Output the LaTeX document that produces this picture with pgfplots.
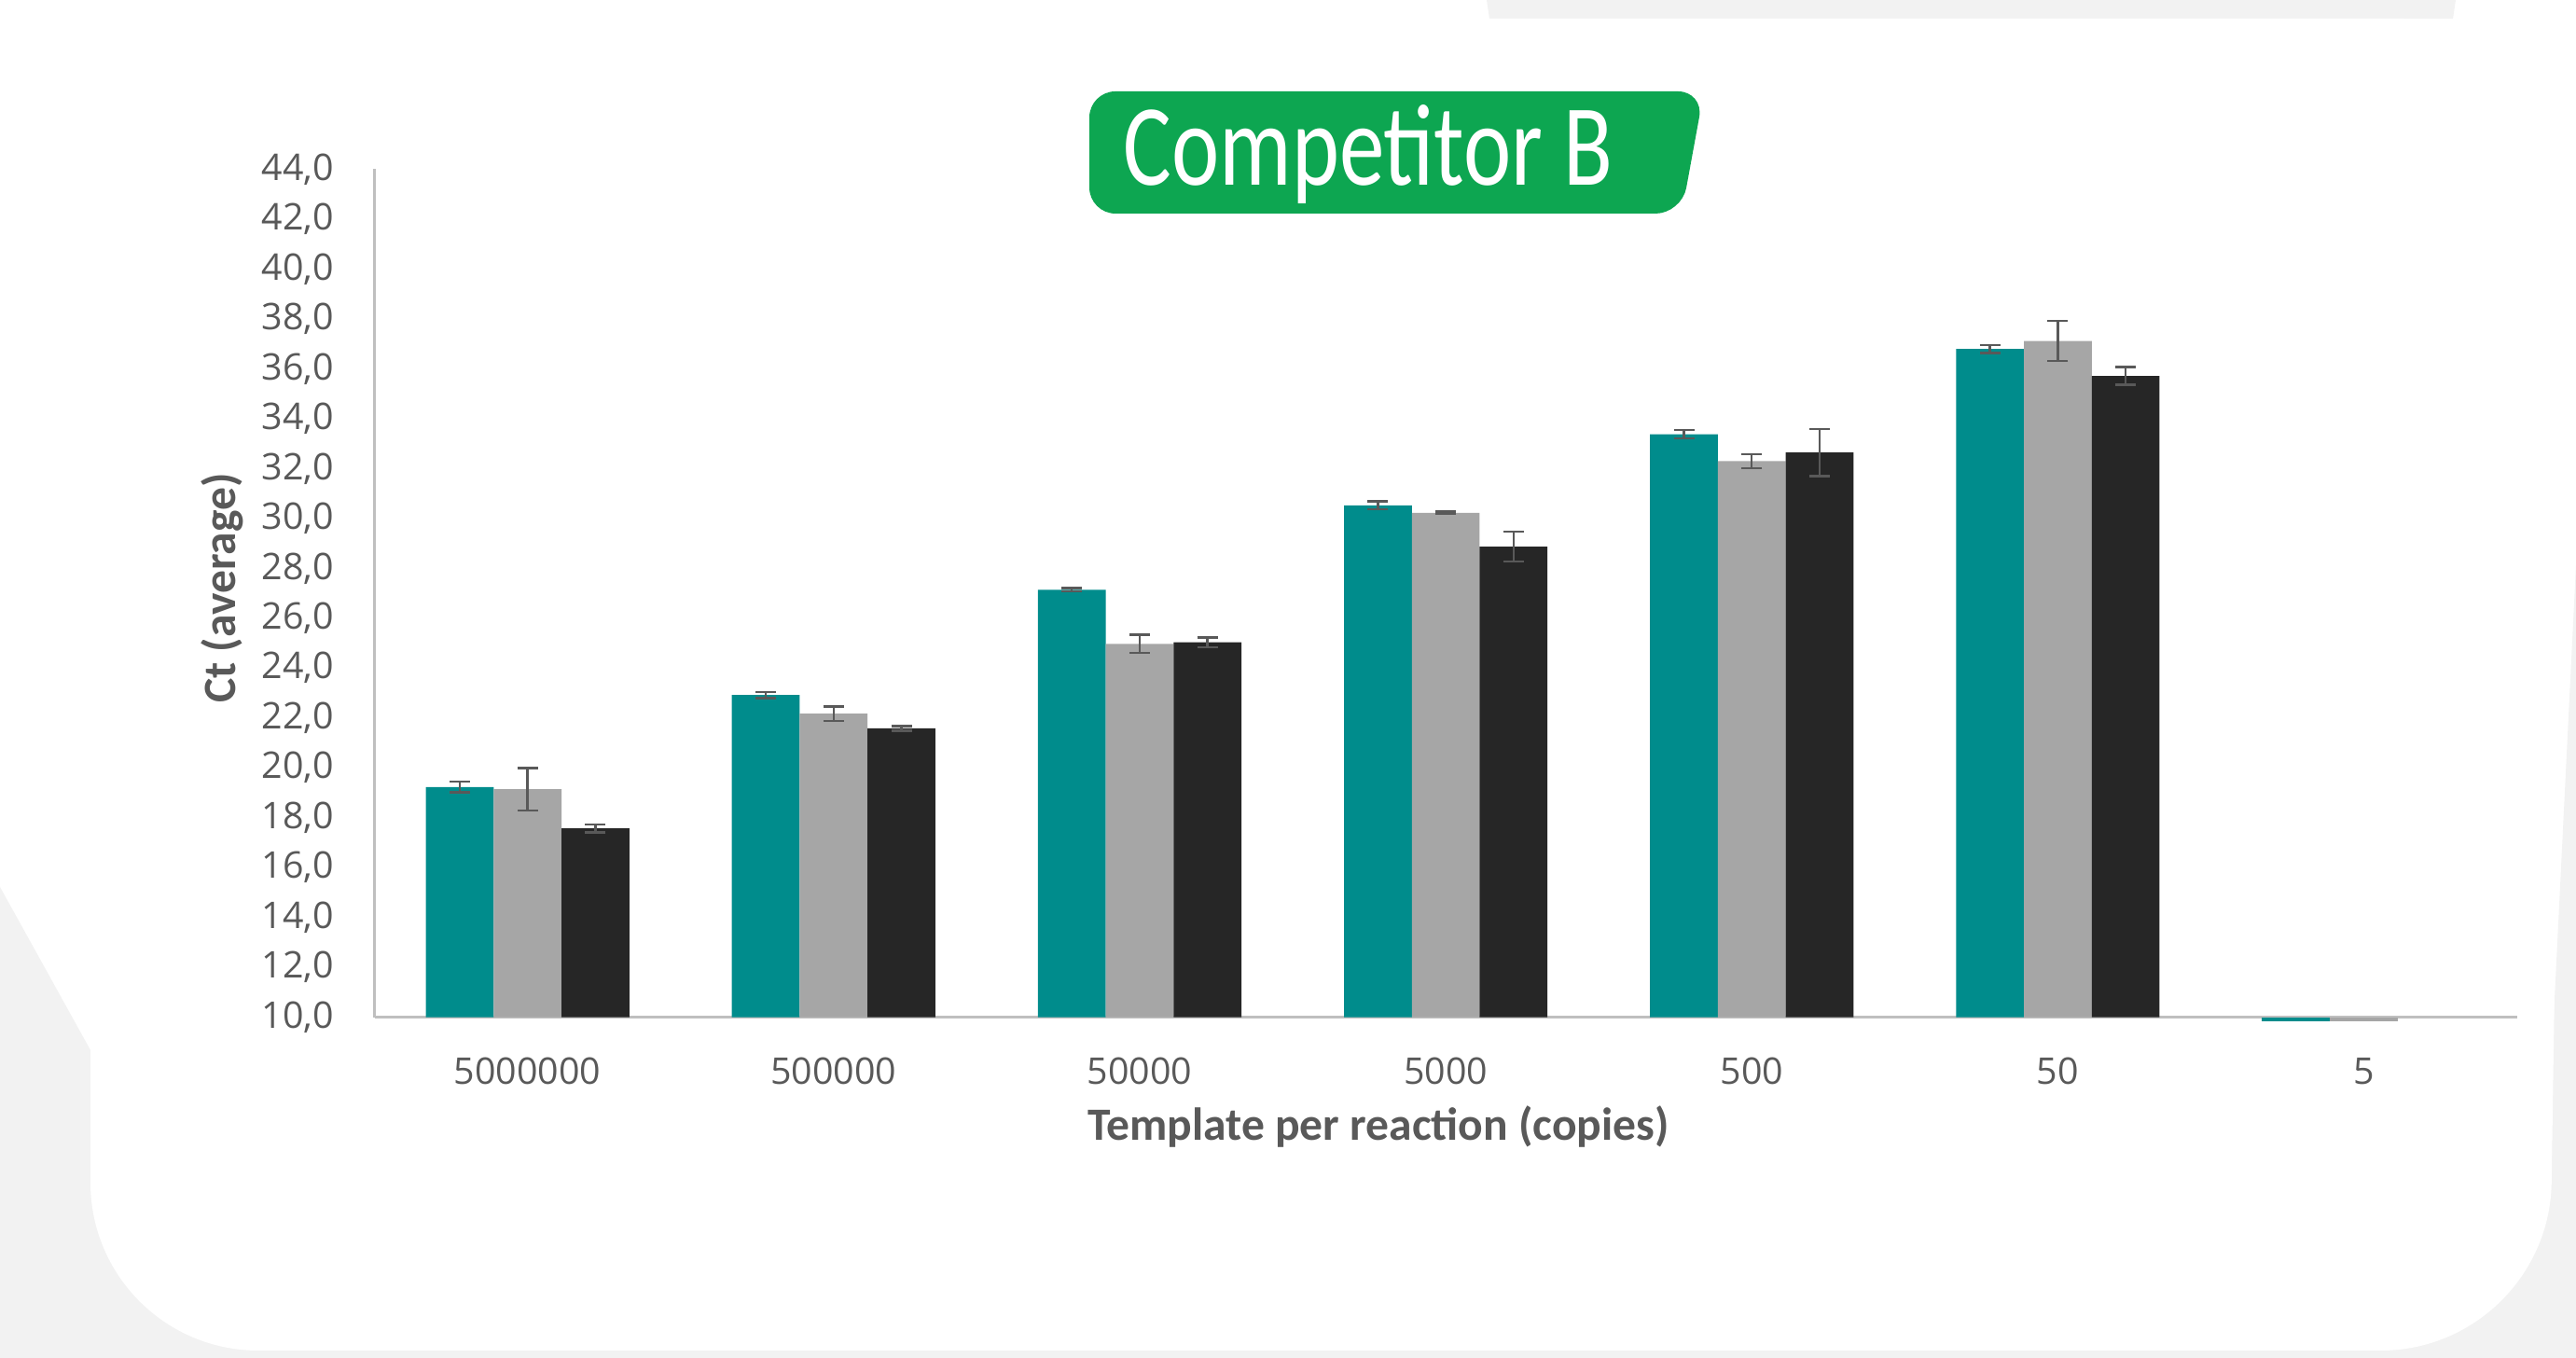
\documentclass[border=0pt]{standalone}
\usepackage{fontspec}
\setmainfont{Open Sans}
\newfontfamily\carlito{Carlito}
\newfontfamily\titlefont[FakeStretch=0.78]{Carlito}
\usepackage{pgfplots}
\pgfplotsset{compat=1.18}
\definecolor{barteal}{RGB}{0,140,140}
\definecolor{bargray}{RGB}{166,166,166}
\definecolor{barblack}{RGB}{38,38,38}
\definecolor{txtgray}{RGB}{89,89,89}
\definecolor{axgray}{RGB}{191,191,191}
\definecolor{errgray}{RGB}{89,89,89}
\definecolor{badge}{RGB}{13,166,81}
\definecolor{bggray}{RGB}{242,242,242}
\begin{document}
\begin{tikzpicture}
\path[use as bounding box] (0,0) rectangle (27.62,14.56);
\fill[white] (0,0) rectangle (27.62,14.56);
% background decoration
\fill[bggray] (15.94,14.56) -- (26.33,14.56) -- (26.30,14.36) -- (15.97,14.36) -- cycle;
\fill[bggray] (0,5.05) -- (0.97,3.3) -- (0.97,0) -- (0,0) -- cycle;
\fill[bggray] (0,0) rectangle (3.2,2.2);
\fill[bggray] (0,0) rectangle (27.62,0.08);
\fill[bggray] (25.2,0) rectangle (27.62,2.2);
\fill[bggray] (27.2,0) -- (27.62,0) -- (27.62,8.5) -- cycle;
\fill[white, rounded corners=1.8cm] (0.97,0.08) -- (0.97,14.36) -- (27.55,14.36) -- (27.33,0.08) -- cycle;
% title badge
\fill[badge, rounded corners=0.28cm] (11.68,12.27) -- (11.68,13.58) -- (18.27,13.58) -- (18.03,12.27) -- cycle;
\node[anchor=base west, inner sep=0pt, text=white, font=\titlefont\fontsize{35.4}{40}\selectfont] at (12.04,12.57) {Competitor B};
\begin{axis}[
  at={(4.016cm,3.653cm)}, anchor=south west,
  scale only axis, width=22.97cm, height=9.093cm,
  xmin=-0.5, xmax=6.5, ymin=10, ymax=44,
  y coord trafo/.code={\pgfmathparse{#1-10}},
  y coord inv trafo/.code={\pgfmathparse{#1+10}},
  ybar=0pt, bar width=0.2216,
  clip=false,
  xtick={0,1,2,3,4,5,6},
  xticklabels={5000000,500000,50000,5000,500,50,5},
  ytick={10,12,...,44},
  major tick length=0pt,
  axis x line*=bottom, axis y line*=left,
  axis line style={draw=axgray, line width=0.7pt, -},
  tick label style={font=\fontsize{11.2}{13}\selectfont, text=txtgray},
  yticklabel style={anchor=east, inner sep=0pt, xshift=-0.43cm,
    /pgf/number format/.cd, fixed, fixed zerofill, precision=1, use comma},
  xticklabel style={anchor=base, inner sep=0pt, yshift=-0.716cm},
  /pgf/number format/assume math mode=true,
  every axis plot/.append style={draw=none},
]
\addplot[fill=barteal, bar shift=-0.2216,
  error bars/.cd, y dir=both, y explicit,
  error bar style={line width=0.7pt, draw=errgray},
  error mark options={rotate=90, mark size=0.11cm, line width=0.7pt, draw=errgray}]
  coordinates {(0,19.23) +- (0,0.21) (1,22.92) +- (0,0.12) (2,27.14) +- (0,0.07)
               (3,30.52) +- (0,0.16) (4,33.37) +- (0,0.17) (5,36.79) +- (0,0.16)};
\addplot[fill=bargray, bar shift=0,
  error bars/.cd, y dir=both, y explicit,
  error bar style={line width=0.7pt, draw=errgray},
  error mark options={rotate=90, mark size=0.11cm, line width=0.7pt, draw=errgray}]
  coordinates {(0,19.14) +- (0,0.85) (1,22.17) +- (0,0.29) (2,24.97) +- (0,0.36)
               (3,30.22) +- (0,0.05) (4,32.30) +- (0,0.28) (5,37.11) +- (0,0.80)};
\addplot[fill=barblack, bar shift=0.2216,
  error bars/.cd, y dir=both, y explicit,
  error bar style={line width=0.7pt, draw=errgray},
  error mark options={rotate=90, mark size=0.11cm, line width=0.7pt, draw=errgray}]
  coordinates {(0,17.57) +- (0,0.16) (1,21.58) +- (0,0.10) (2,25.03) +- (0,0.20)
               (3,28.87) +- (0,0.59) (4,32.64) +- (0,0.94) (5,35.71) +- (0,0.36)};
\addplot[fill=barteal, bar shift=-0.2216] coordinates {(6,9.85)};
\addplot[fill=bargray, bar shift=0] coordinates {(6,9.85)};
\end{axis}
\node[anchor=base, inner sep=0pt, text=txtgray, font=\carlito\bfseries\fontsize{14.1}{17}\selectfont] at (14.78,2.33) {Template per reaction (copies)};
\node[rotate=90, anchor=base, inner sep=0pt, text=txtgray, font=\carlito\bfseries\fontsize{14.1}{17}\selectfont] at (2.52,8.254) {Ct (average)};
\end{tikzpicture}
\end{document}
